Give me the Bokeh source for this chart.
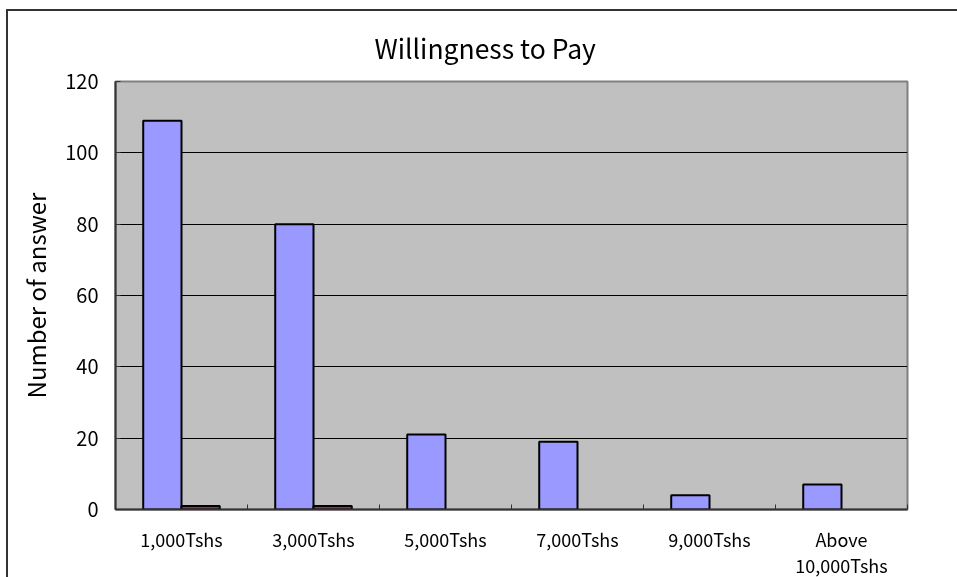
from bokeh.plotting import figure
from bokeh.models import Range1d, FixedTicker
from bokeh.embed import file_html
from bokeh.resources import INLINE
import numpy as np

title = "Willingness to Pay"
y_label = "Number of answer"
categories = ["1,000Tshs", "3,000Tshs", "5,000Tshs", "7,000Tshs", "9,000Tshs", "Above\n10,000Tshs"]
series_a = [109, 80, 21, 19, 4, 7]
series_b = [1, 1, 0, 0, 0, 0]
y_ticks = [0, 20, 40, 60, 80, 100, 120]

FONT = "Noto Sans CJK JP"

# the chart area is larger than the window and cropped at right/bottom, like the reference
p = figure(width=970, height=590, output_backend="svg", toolbar_location=None,
           x_range=Range1d(0, len(categories)), y_range=Range1d(0, 120),
           min_border_left=107, min_border_right=71, min_border_top=70, min_border_bottom=92)
p.styles = {"position": "fixed", "top": "9px", "left": "6px",
            "border": "2px solid #333333"}
p.background_fill_color = "#C0C0C0"
p.border_fill_color = "white"
p.outline_line_color = "#808080"
p.outline_line_width = 2

p.title.text = title
p.title.align = "left"
p.title.offset = 259
p.title.standoff = 29
p.title.text_font = FONT
p.title.text_font_size = "26.5px"
p.title.text_font_style = "normal"
p.title.text_color = "black"

centers = np.arange(len(categories)) + 0.5
top_a = [v if v else np.nan for v in series_a]
top_b = [v if v else np.nan for v in series_b]
p.vbar(x=centers - 0.145, top=top_a, width=0.29, fill_color="#9999FF",
       line_color="black", line_width=2)
p.vbar(x=centers + 0.145, top=top_b, width=0.29, fill_color="#993366",
       line_color="black", line_width=2)

# x axis
xa = p.xaxis[0]
xa.ticker = FixedTicker(ticks=list(centers), minor_ticks=list(range(len(categories) + 1)))
xa.major_label_overrides = {float(c): lab for c, lab in zip(centers, categories)}
xa.major_tick_in = 0
xa.major_tick_out = 0
xa.minor_tick_in = 5
xa.minor_tick_out = 0
xa.minor_tick_line_color = "#333333"
xa.minor_tick_line_width = 1
xa.axis_line_color = "#333333"
xa.axis_line_width = 2
xa.major_label_standoff = 16
xa.major_label_text_font = FONT
xa.major_label_text_font_size = "18px"
xa.major_label_text_color = "black"
xa.major_label_text_line_height = 1.02

# y axis
ya = p.yaxis[0]
ya.ticker = FixedTicker(ticks=y_ticks)
ya.major_tick_in = 5
ya.major_tick_out = 0
ya.minor_tick_line_color = None
ya.major_tick_line_color = "#333333"
ya.axis_line_color = "#333333"
ya.axis_line_width = 2
ya.major_label_standoff = 17
ya.major_label_text_font = FONT
ya.major_label_text_font_size = "20px"
ya.major_label_text_color = "black"
ya.axis_label = y_label
ya.axis_label_text_font = FONT
ya.axis_label_text_font_size = "24px"
ya.axis_label_text_font_style = "normal"
ya.axis_label_text_color = "black"
ya.axis_label_standoff = 9

p.xgrid.visible = False
p.ygrid.grid_line_color = "black"
p.ygrid.grid_line_width = 1
p.ygrid.ticker = FixedTicker(ticks=y_ticks)

open("out.html", "w").write(file_html(p, INLINE))
